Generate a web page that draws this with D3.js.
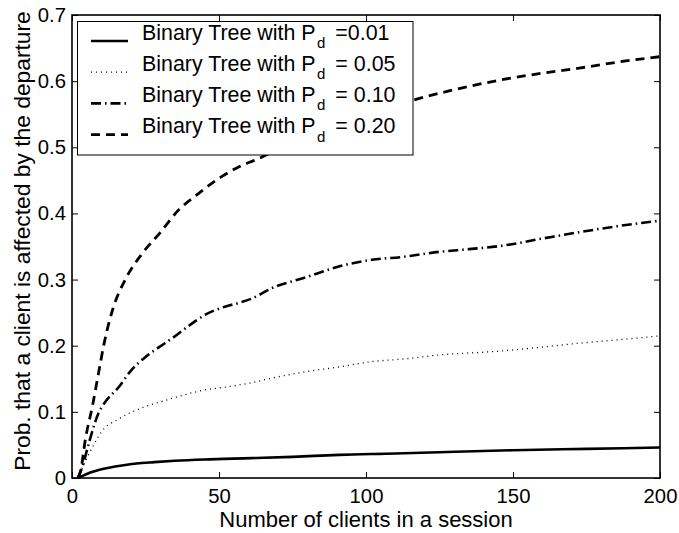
<!DOCTYPE html>
<html>
<head>
<meta charset="utf-8">
<script src="https://cdn.jsdelivr.net/npm/d3@7"></script>
<style>
  html, body { margin: 0; padding: 0; background: #fff; }
  svg { display: block; }
  text { font-family: "Liberation Sans", Arial, Helvetica, sans-serif; fill: #000; }
</style>
</head>
<body>
<svg id="chart" width="679" height="533"></svg>
<script>
// ---- data ----
const xTickValues = [0, 50, 100, 150, 200];
const xTickLabels = ["0", "50", "100", "150", "200"];
const yTickValues = [0, 0.1, 0.2, 0.3, 0.4, 0.5, 0.6, 0.7];
const yTickLabels = ["0", "0.1", "0.2", "0.3", "0.4", "0.5", "0.6", "0.7"];

const seriesNames = ["Binary Tree with P", "Binary Tree with P", "Binary Tree with P", "Binary Tree with P"];
const seriesSuffix = [" =0.01", " = 0.05", " = 0.10", " = 0.20"];

const clients001 = [2, 4, 6, 9, 13, 17, 22, 28, 35, 45, 61, 75, 91, 110, 125, 150, 175, 200];
const prob001    = [0, 0.004, 0.008, 0.012, 0.016, 0.019, 0.022, 0.024, 0.026, 0.028, 0.030, 0.032, 0.035, 0.037, 0.039, 0.042, 0.044, 0.046];

const clients005 = [2, 4, 7, 11, 15, 20, 25, 30, 36, 45, 53, 61, 68, 80, 91, 102, 113, 125, 146, 160, 173, 186, 200];
const prob005    = [0, 0.02, 0.047, 0.075, 0.087, 0.099, 0.108, 0.115, 0.123, 0.133, 0.138, 0.144, 0.151, 0.161, 0.168, 0.176, 0.18, 0.186, 0.192, 0.198, 0.204, 0.209, 0.215];

const clients010 = [2, 3.5, 6, 9, 11, 16, 20, 25, 30, 34, 40, 45, 52, 57, 61, 68, 80, 91, 102, 112, 125, 135, 146, 160, 173, 186, 200];
const prob010    = [0, 0.017, 0.057, 0.098, 0.113, 0.138, 0.162, 0.183, 0.199, 0.211, 0.231, 0.246, 0.259, 0.265, 0.271, 0.287, 0.304, 0.32, 0.33, 0.334, 0.342, 0.346, 0.351, 0.362, 0.372, 0.381, 0.389];

const clients020 = [2, 3, 4.5, 7, 9, 11, 14, 18, 24, 30, 36, 43, 51, 57, 63, 70, 80, 90, 100, 110, 116, 130, 146, 160, 173, 186, 200];
const prob020    = [0, 0.012, 0.057, 0.11, 0.158, 0.205, 0.257, 0.299, 0.34, 0.371, 0.404, 0.43, 0.456, 0.471, 0.482, 0.497, 0.516, 0.533, 0.548, 0.562, 0.571, 0.587, 0.602, 0.612, 0.62, 0.629, 0.637];

// ---- layout / styles ----
const svg = d3.select("#chart");
const L = 72, R = 660, T = 15, B = 478;
const x = d3.scaleLinear().domain([0, 200]).range([L, R]);
const y = d3.scaleLinear().domain([0, 0.7]).range([B, T]);

const styles = [
  { dash: null, width: 2.6 },
  { dash: "1,4", width: 1.3 },
  { dash: "10,4,1.5,4", width: 2.6 },
  { dash: "9,6", width: 2.8 }
];
const series = [
  { xs: clients001, ys: prob001 },
  { xs: clients005, ys: prob005 },
  { xs: clients010, ys: prob010 },
  { xs: clients020, ys: prob020 }
];

svg.append("rect").attr("width", 679).attr("height", 533).attr("fill", "#fff");

// lines
const line = d3.line().x(d => x(d[0])).y(d => y(d[1])).curve(d3.curveMonotoneX);
series.forEach((s, i) => {
  const pts = s.xs.map((v, k) => [v, s.ys[k]]);
  svg.append("path")
    .attr("d", line(pts))
    .attr("fill", "none")
    .attr("stroke", "#000")
    .attr("stroke-width", styles[i].width)
    .attr("stroke-dasharray", styles[i].dash)
    .attr("stroke-linejoin", "round");
});

// axes (MATLAB box with inward ticks)
const tickLen = 6;
const fontTick = 20.3;
const xAxisB = d3.axisBottom(x).tickValues(xTickValues).tickFormat((d, i) => xTickLabels[i])
  .tickSizeInner(-tickLen).tickSizeOuter(0).tickPadding(12);
const xAxisT = d3.axisTop(x).tickValues(xTickValues).tickFormat("")
  .tickSizeInner(-tickLen).tickSizeOuter(0);
const yAxisL = d3.axisLeft(y).tickValues(yTickValues).tickFormat((d, i) => yTickLabels[i])
  .tickSizeInner(-tickLen).tickSizeOuter(0).tickPadding(12);
const yAxisR = d3.axisRight(y).tickValues(yTickValues).tickFormat("")
  .tickSizeInner(-tickLen).tickSizeOuter(0);

function styleAxis(g) {
  g.selectAll("path.domain").remove();
  g.selectAll(".tick line").attr("stroke", "#000").attr("stroke-width", 1);
  g.selectAll(".tick text")
    .style("font-family", '"Liberation Sans", Arial, Helvetica, sans-serif')
    .style("font-size", fontTick + "px").attr("fill", "#000");
}
svg.append("g").attr("transform", `translate(0,${B})`).call(xAxisB).call(styleAxis)
  .selectAll(".tick text").attr("dy", "0.71em").attr("y", 11);
svg.append("g").attr("transform", `translate(0,${T})`).call(xAxisT).call(styleAxis);
svg.append("g").attr("transform", `translate(${L},0)`).call(yAxisL).call(styleAxis)
  .selectAll(".tick text").attr("x", -6);
svg.append("g").attr("transform", `translate(${R},0)`).call(yAxisR).call(styleAxis);

// frame
svg.append("rect").attr("x", L).attr("y", T).attr("width", R - L).attr("height", B - T)
  .attr("fill", "none").attr("stroke", "#000").attr("stroke-width", 1.6);

// axis titles
svg.append("text").attr("x", (L + R) / 2).attr("y", 527).attr("text-anchor", "middle")
  .style("font-size", "22px").text("Number of clients in a session");
svg.append("text").attr("transform", `translate(30,241) rotate(-90)`)
  .attr("text-anchor", "middle").style("font-size", "22.8px")
  .text("Prob. that a client is affected by the departure");

// legend
const lg = svg.append("g");
lg.append("rect").attr("x", 77.5).attr("y", 21.5).attr("width", 335.5).attr("height", 133.5)
  .attr("fill", "#fff").attr("stroke", "#000").attr("stroke-width", 1);
series.forEach((s, i) => {
  const by = 39.5 + i * 31.2;
  lg.append("line").attr("x1", 91).attr("x2", 128).attr("y1", by + 1.5).attr("y2", by + 1.5)
    .attr("stroke", "#000").attr("stroke-width", styles[i].width)
    .attr("stroke-dasharray", styles[i].dash);
  const t = lg.append("text").attr("x", 142).attr("y", by).style("font-size", "21.4px");
  t.append("tspan").text(seriesNames[i]);
  t.append("tspan").attr("dx", 1.5).attr("dy", 8.5).style("font-size", "15px").text("d");
  t.append("tspan").attr("dx", 4).attr("dy", -8.5).text(seriesSuffix[i]);
});
</script>
</body>
</html>
